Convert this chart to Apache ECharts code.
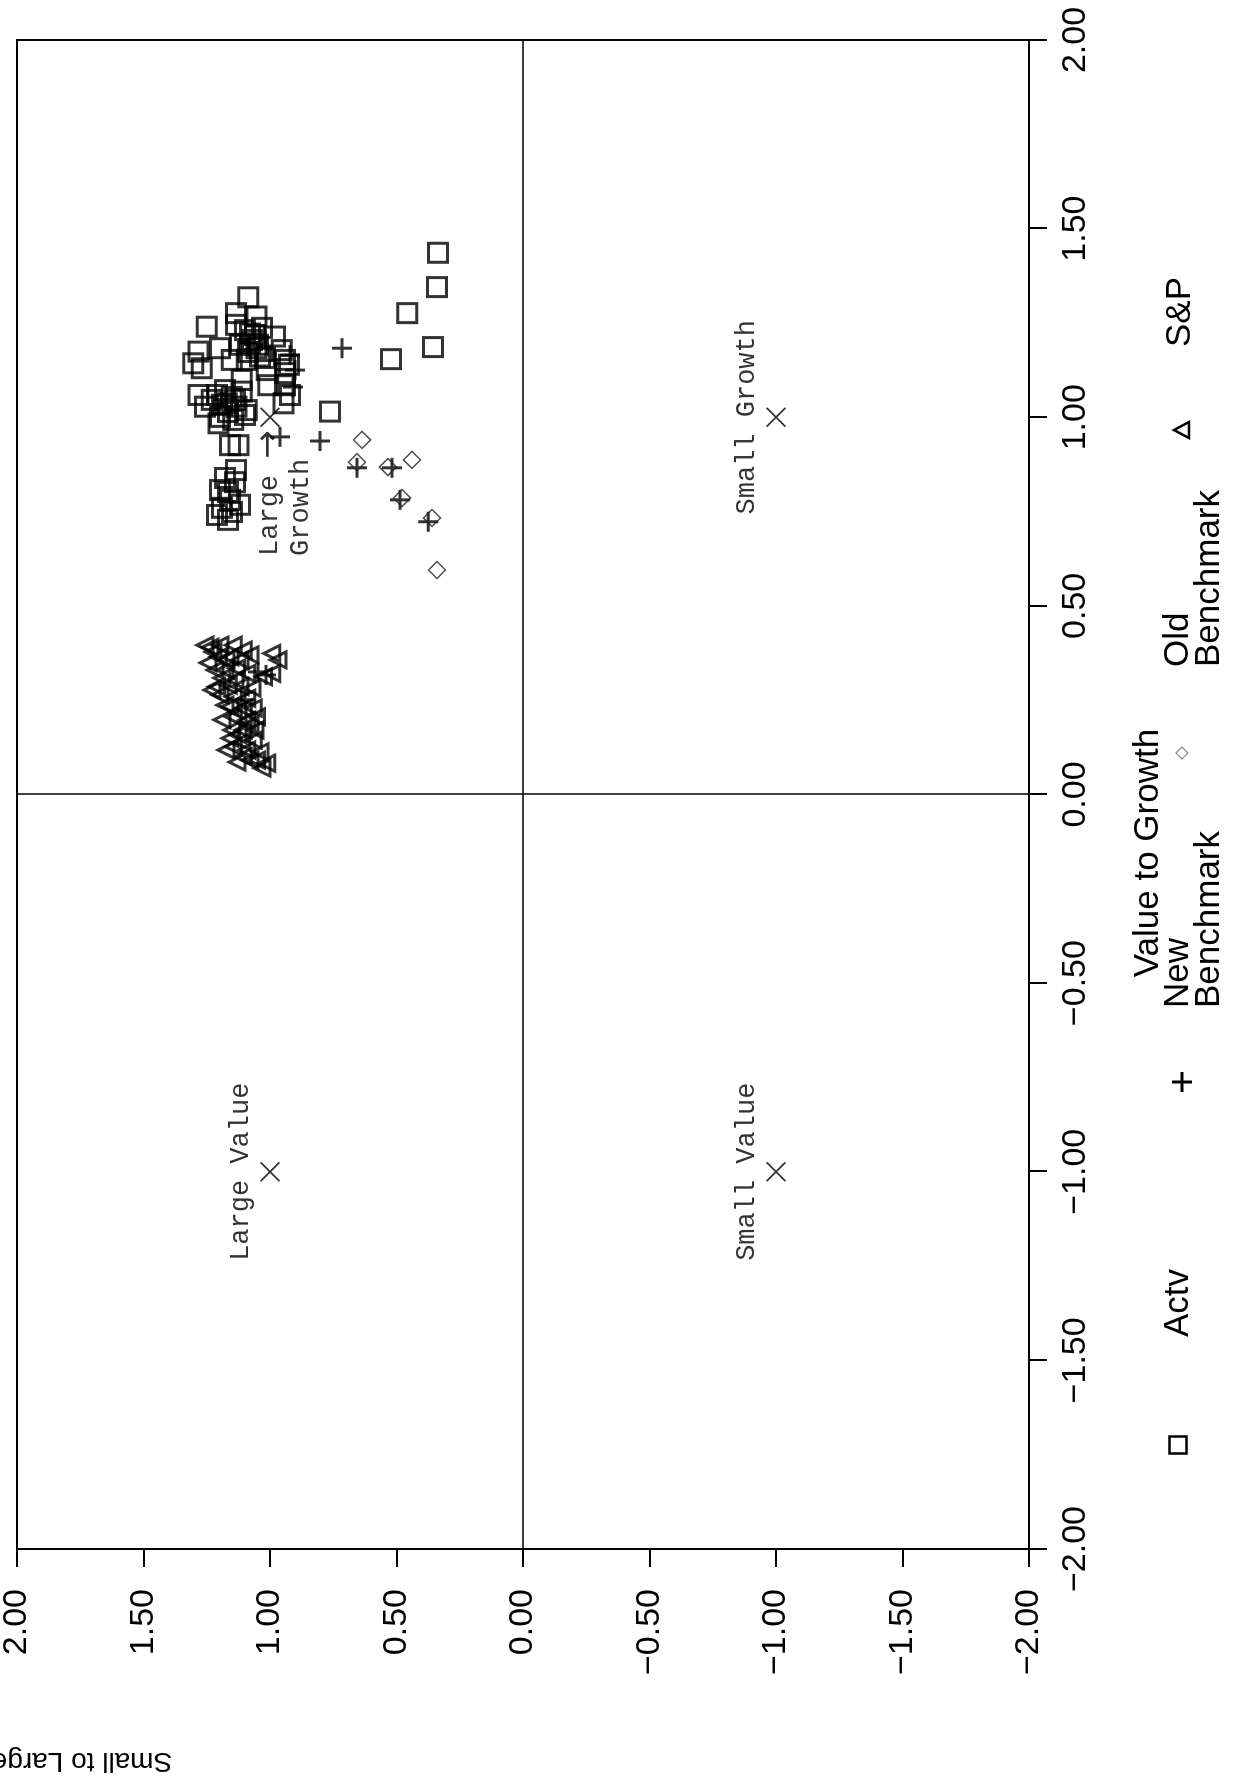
<!DOCTYPE html>
<html>
<head>
<meta charset="utf-8">
<script src="https://cdn.jsdelivr.net/npm/echarts@6/dist/echarts.min.js"></script>
<style>
html, body { margin: 0; padding: 0; background: #fff; }
body { width: 1243px; height: 1777px; overflow: hidden; position: relative; }
/* 原图是整张逆时针转了 90°，这里画正向图再转回去 */
#chart { position: absolute; left: 0; top: 0; width: 1777px; height: 1243px;
         transform-origin: 0 0; transform: translate(0, 1777px) rotate(-90deg); }
</style>
</head>
<body>
<div id="chart"></div>
<script>
// 横轴 Value to Growth，纵轴 Small to Large
const axisTicks = [-2, -1.5, -1, -0.5, 0, 0.5, 1, 1.5, 2];

const styleNames = ['Large Value', 'Small Value', 'Small Growth', 'Large Growth'];
const stylePoints = [[-1, 1], [-1, -1], [1, -1], [1, 1]];

// [value-to-growth, small-to-large]
const actvPoints = [
    [1.318, 1.086], [1.240, 1.250], [1.276, 1.134], [1.245, 1.134], [1.267, 1.053],
    [1.218, 1.059], [1.214, 0.980], [1.183, 1.053], [1.178, 0.954], [1.152, 0.941],
    [1.183, 1.198], [1.174, 1.283], [1.143, 1.303], [1.130, 1.270], [1.152, 1.151],
    [1.152, 1.092], [1.125, 1.013], [1.117, 0.941], [1.085, 0.941], [1.085, 1.007],
    [1.099, 1.112], [1.059, 1.283], [1.028, 1.257], [1.001, 1.198], [1.054, 1.151],
    [1.068, 1.112], [1.037, 0.947], [0.984, 1.204], [0.993, 1.145], [1.019, 1.092],
    [0.926, 1.158], [0.926, 1.125], [1.015, 0.763], [1.222, 1.079], [1.196, 1.079],
    [1.161, 1.040], [1.046, 1.230], [1.037, 1.171], [1.028, 1.132],
    [1.231, 1.099], [1.205, 1.071], [1.237, 1.032], [1.173, 1.087], [1.192, 1.047],
    [1.157, 1.020], [1.192, 1.119], [1.072, 1.178], [1.046, 1.138], [1.033, 1.190],
    [1.006, 1.099], [1.014, 1.166], [1.059, 1.209], [1.139, 0.925], [1.059, 0.921],
    [1.436, 0.336], [1.345, 0.340], [1.276, 0.458], [1.186, 0.356], [1.154, 0.522],
    [0.839, 1.178], [0.828, 1.138], [0.802, 1.166], [0.760, 1.190], [0.749, 1.150],
    [0.768, 1.119], [0.728, 1.166], [0.741, 1.209], [0.781, 1.158], [0.860, 1.134],
    [0.807, 1.198]
];

const newBenchPoints = [
    [1.183, 0.715], [0.937, 0.802], [0.948, 0.960], [1.125, 0.901], [1.080, 0.909],
    [1.165, 0.921], [0.866, 0.656], [0.866, 0.518], [0.781, 0.486], [0.723, 0.375],
    [0.317, 1.016], [0.325, 1.047], [0.251, 1.099]
];

const oldBenchPoints = [
    [0.940, 0.636], [0.881, 0.656], [0.868, 0.534], [0.887, 0.439], [0.786, 0.478],
    [0.733, 0.360], [0.595, 0.340]
];

const spPoints = [
    [0.390, 1.237], [0.396, 1.198], [0.396, 1.145], [0.383, 1.106], [0.365, 1.204],
    [0.365, 1.158], [0.357, 1.119], [0.330, 1.217], [0.330, 1.178], [0.335, 1.132],
    [0.321, 1.092], [0.286, 1.211], [0.290, 1.165], [0.286, 1.119], [0.264, 1.198],
    [0.259, 1.145], [0.255, 1.092], [0.233, 1.158], [0.229, 1.106], [0.229, 1.066],
    [0.206, 1.145], [0.197, 1.092], [0.206, 1.053], [0.171, 1.151], [0.171, 1.106],
    [0.171, 1.059], [0.149, 1.158], [0.140, 1.112], [0.144, 1.066], [0.127, 1.145],
    [0.118, 1.092], [0.113, 1.040], [0.100, 1.106], [0.091, 1.053], [0.083, 1.013],
    [0.374, 0.993], [0.321, 0.993], [0.312, 1.026],
    [0.396, 1.257], [0.378, 1.225], [0.357, 1.174], [0.370, 1.079], [0.349, 1.245],
    [0.309, 1.190], [0.304, 1.138], [0.282, 1.071], [0.277, 1.229], [0.237, 1.178],
    [0.219, 1.126], [0.185, 1.079], [0.198, 1.190], [0.158, 1.126], [0.118, 1.174],
    [0.091, 1.079], [0.070, 1.032], [0.086, 1.130], [0.357, 0.968]
];

const SANS = 'Liberation Sans, Arial, sans-serif';
const MONO = 'Liberation Mono, DejaVu Sans Mono, monospace';
const PLUS = 'path://M8.5,0H11.5V8.5H20V11.5H11.5V20H8.5V11.5H0V8.5H8.5Z';
const CROSS = 'path://M0,1.5L1.5,0L12,10.5L22.5,0L24,1.5L13.5,12L24,22.5L22.5,24L12,13.5L1.5,24L0,22.5L10.5,12Z';

const fmt = v => (v < 0 ? '\u2212' : '') + Math.abs(v).toFixed(2);

function valueAxis(pos, margin) {
    return {
        type: 'value',
        position: pos,
        min: axisTicks[0],
        max: axisTicks[axisTicks.length - 1],
        interval: axisTicks[1] - axisTicks[0],
        axisLine: { show: true, onZero: false, lineStyle: { color: '#000', width: 2 } },
        axisTick: { show: true, inside: false, length: 18, lineStyle: { color: '#000', width: 2 } },
        axisLabel: { margin: margin, fontFamily: SANS, fontSize: 34, color: '#000', formatter: fmt },
        splitLine: { show: false }
    };
}

// 风格中心点 + 标注（Large Growth 用箭头放在左边）
const styleData = stylePoints.map((p, i) => {
    const item = { name: styleNames[i], value: p };
    if (styleNames[i] === 'Large Growth') {
        item.label = {
            position: 'left',
            distance: 3,
            offset: [0, 15],
            formatter: '{t|Large }{a|\u2192}\n{t|Growth}'
        };
    }
    return item;
});

const chart = echarts.init(document.getElementById('chart'));

chart.setOption({
    animation: false,
    backgroundColor: '#fff',
    grid: { left: 228, right: 40, top: 17, bottom: 214, show: true, borderColor: '#000', borderWidth: 2 },
    xAxis: valueAxis('bottom', 30),
    yAxis: valueAxis('left', 40),
    series: [
        {
            name: 'Actv', type: 'scatter', symbol: 'rect', symbolSize: 19,
            itemStyle: { color: 'rgba(0,0,0,0)', borderColor: '#000', borderWidth: 3 },
            data: actvPoints,
            markLine: {
                silent: true, symbol: ['none', 'none'], label: { show: false },
                lineStyle: { color: '#000', width: 1.5, type: 'solid' },
                data: [{ xAxis: 0 }, { yAxis: 0 }]
            }
        },
        {
            name: 'New Benchmark', type: 'scatter', symbol: PLUS, symbolSize: 20,
            itemStyle: { color: '#000' },
            data: newBenchPoints
        },
        {
            name: 'Old Benchmark', type: 'scatter', symbol: 'diamond', symbolSize: 17,
            itemStyle: { color: 'rgba(0,0,0,0)', borderColor: '#222', borderWidth: 1.5 },
            data: oldBenchPoints
        },
        {
            name: 'S&P', type: 'scatter', symbol: 'triangle', symbolSize: 16,
            itemStyle: { color: 'rgba(0,0,0,0)', borderColor: '#000', borderWidth: 3 },
            data: spPoints
        },
        {
            name: 'Styles', type: 'scatter', symbol: CROSS, symbolSize: 20,
            itemStyle: { color: '#000' },
            label: {
                show: true, position: 'top', distance: 6,
                formatter: '{b}', fontFamily: MONO, fontSize: 27, color: '#000',
                rich: {
                    t: { fontFamily: MONO, fontSize: 27, lineHeight: 31, color: '#000', align: 'left' },
                    a: { fontFamily: 'DejaVu Sans', fontSize: 34, lineHeight: 31, color: '#000', align: 'left' }
                }
            },
            data: styleData
        }
    ],
    graphic: [
        // 轴标题
        { type: 'text', x: 924, y: 1148, style: { text: 'Value to Growth', font: '35px ' + SANS, fill: '#000', align: 'center', verticalAlign: 'middle' } },
        { type: 'text', x: 16, y: 82, rotation: Math.PI / 2, style: { text: 'Small to Large', font: '28px ' + SANS, fill: '#000', align: 'center', verticalAlign: 'middle' } },
        // 图例
        { type: 'rect', shape: { x: 323.5, y: 1169.5, width: 17, height: 17 }, style: { fill: 'none', stroke: '#000', lineWidth: 2.5 } },
        { type: 'text', x: 440, y: 1178, style: { text: 'Actv', font: '35px ' + SANS, fill: '#000', verticalAlign: 'middle' } },
        { type: 'rect', shape: { x: 685, y: 1180.5, width: 20, height: 3 }, style: { fill: '#000' } },
        { type: 'rect', shape: { x: 693.5, y: 1172, width: 3, height: 20 }, style: { fill: '#000' } },
        { type: 'text', x: 769, y: 1163, style: { text: 'New\nBenchmark', font: '35px ' + SANS, lineHeight: 31, fill: '#000', verticalAlign: 'top' } },
        { type: 'polygon', shape: { points: [[1024, 1176], [1030, 1182], [1024, 1188], [1018, 1182]] }, style: { fill: 'none', stroke: '#888', lineWidth: 1.2 } },
        { type: 'text', x: 1110, y: 1163, style: { text: 'Old\nBenchmark', font: '35px ' + SANS, lineHeight: 31, fill: '#000', verticalAlign: 'top' } },
        { type: 'polygon', shape: { points: [[1347, 1174], [1355, 1189], [1339, 1189]] }, style: { fill: 'none', stroke: '#000', lineWidth: 2.5 } },
        { type: 'text', x: 1430, y: 1180, style: { text: 'S&P', font: '35px ' + SANS, fill: '#000', verticalAlign: 'middle' } }
    ]
});
</script>
</body>
</html>
